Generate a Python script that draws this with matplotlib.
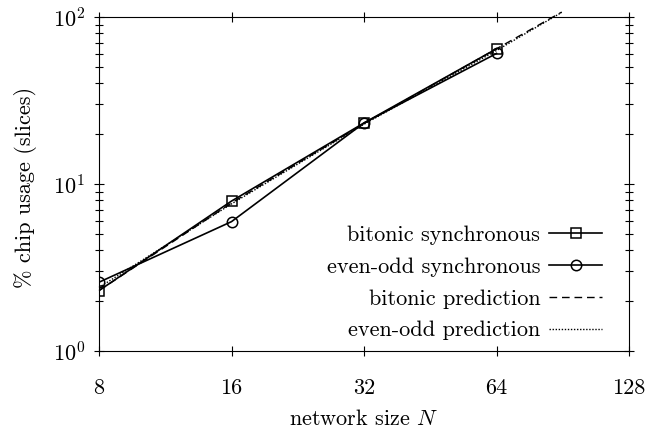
import matplotlib
matplotlib.use("Agg")
import matplotlib.pyplot as plt
from matplotlib.ticker import LogLocator, NullFormatter, FixedLocator, NullLocator

plt.rcParams['font.family'] = 'serif'
plt.rcParams['font.serif'] = ['cmr10', 'DejaVu Serif']
plt.rcParams['mathtext.fontset'] = 'cm'
plt.rcParams['axes.formatter.use_mathtext'] = True
plt.rcParams['axes.unicode_minus'] = False

# Data
network_sizes = [8, 16, 32, 64]
bitonic_sync = [2.3, 7.9, 23.2, 64.5]
evenodd_sync = [2.58, 5.95, 23.2, 60.5]

pred_sizes = [8, 16, 32, 64, 90]
bitonic_pred = [2.3, 7.7, 23.0, 64.5, 107.0]
evenodd_pred = [2.4, 7.6, 22.8, 63.0, 106.5]

xticks = [8, 16, 32, 64, 128]
xtick_labels = ['8', '16', '32', '64', '128']

FS = 16

fig = plt.figure(figsize=(6.57, 4.28), dpi=100)
ax = fig.add_axes([0.1507, 0.18, 0.8067, 0.7803])

ax.plot(network_sizes, bitonic_sync, color='black', lw=1.2, marker='s',
        markersize=7.5, markerfacecolor='none', markeredgewidth=1.1,
        label='bitonic synchronous')
ax.plot(network_sizes, evenodd_sync, color='black', lw=1.2, marker='o',
        markersize=7.5, markerfacecolor='none', markeredgewidth=1.1,
        label='even-odd synchronous')
ax.plot(pred_sizes, bitonic_pred, color='black', lw=1.0, ls=(0, (5.5, 3.5)),
        label='bitonic prediction', clip_on=False)
ax.plot(pred_sizes, evenodd_pred, color='black', lw=1.0, ls=(0, (1, 1.2)),
        label='even-odd prediction', clip_on=False)

ax.set_xscale('log', base=2)
ax.set_yscale('log')
ax.set_xlim(8, 128)
ax.set_ylim(1, 100)

ax.xaxis.set_major_locator(FixedLocator(xticks))
ax.set_xticklabels(xtick_labels)
ax.xaxis.set_minor_locator(NullLocator())
ax.yaxis.set_minor_locator(LogLocator(base=10, subs=range(2, 10)))
ax.yaxis.set_minor_formatter(NullFormatter())

ax.tick_params(which='major', direction='inout', length=7.2, width=0.8,
               top=True, right=True, labelsize=FS)
ax.tick_params(which='minor', direction='inout', length=6, width=0.8,
               top=True, right=True)
ax.tick_params(axis='x', which='major', pad=16)
ax.tick_params(axis='y', which='major', pad=6.5)
for s in ax.spines.values():
    s.set_linewidth(0.8)

ax.set_xlabel('network size $N$', fontsize=FS, va='baseline')
ax.xaxis.set_label_coords(0.5, -0.2216)
ax.set_ylabel('% chip usage (slices)', fontsize=FS, va='baseline')
ax.yaxis.set_label_coords(-0.1283, 0.49)

leg = ax.legend(loc='lower right', frameon=False, markerfirst=False,
                fontsize=FS, handlelength=2.4, handletextpad=0.4,
                labelspacing=0.55, bbox_to_anchor=(0.975, -0.008),
                borderaxespad=0.2)

fig.savefig('out.png', dpi=100)
